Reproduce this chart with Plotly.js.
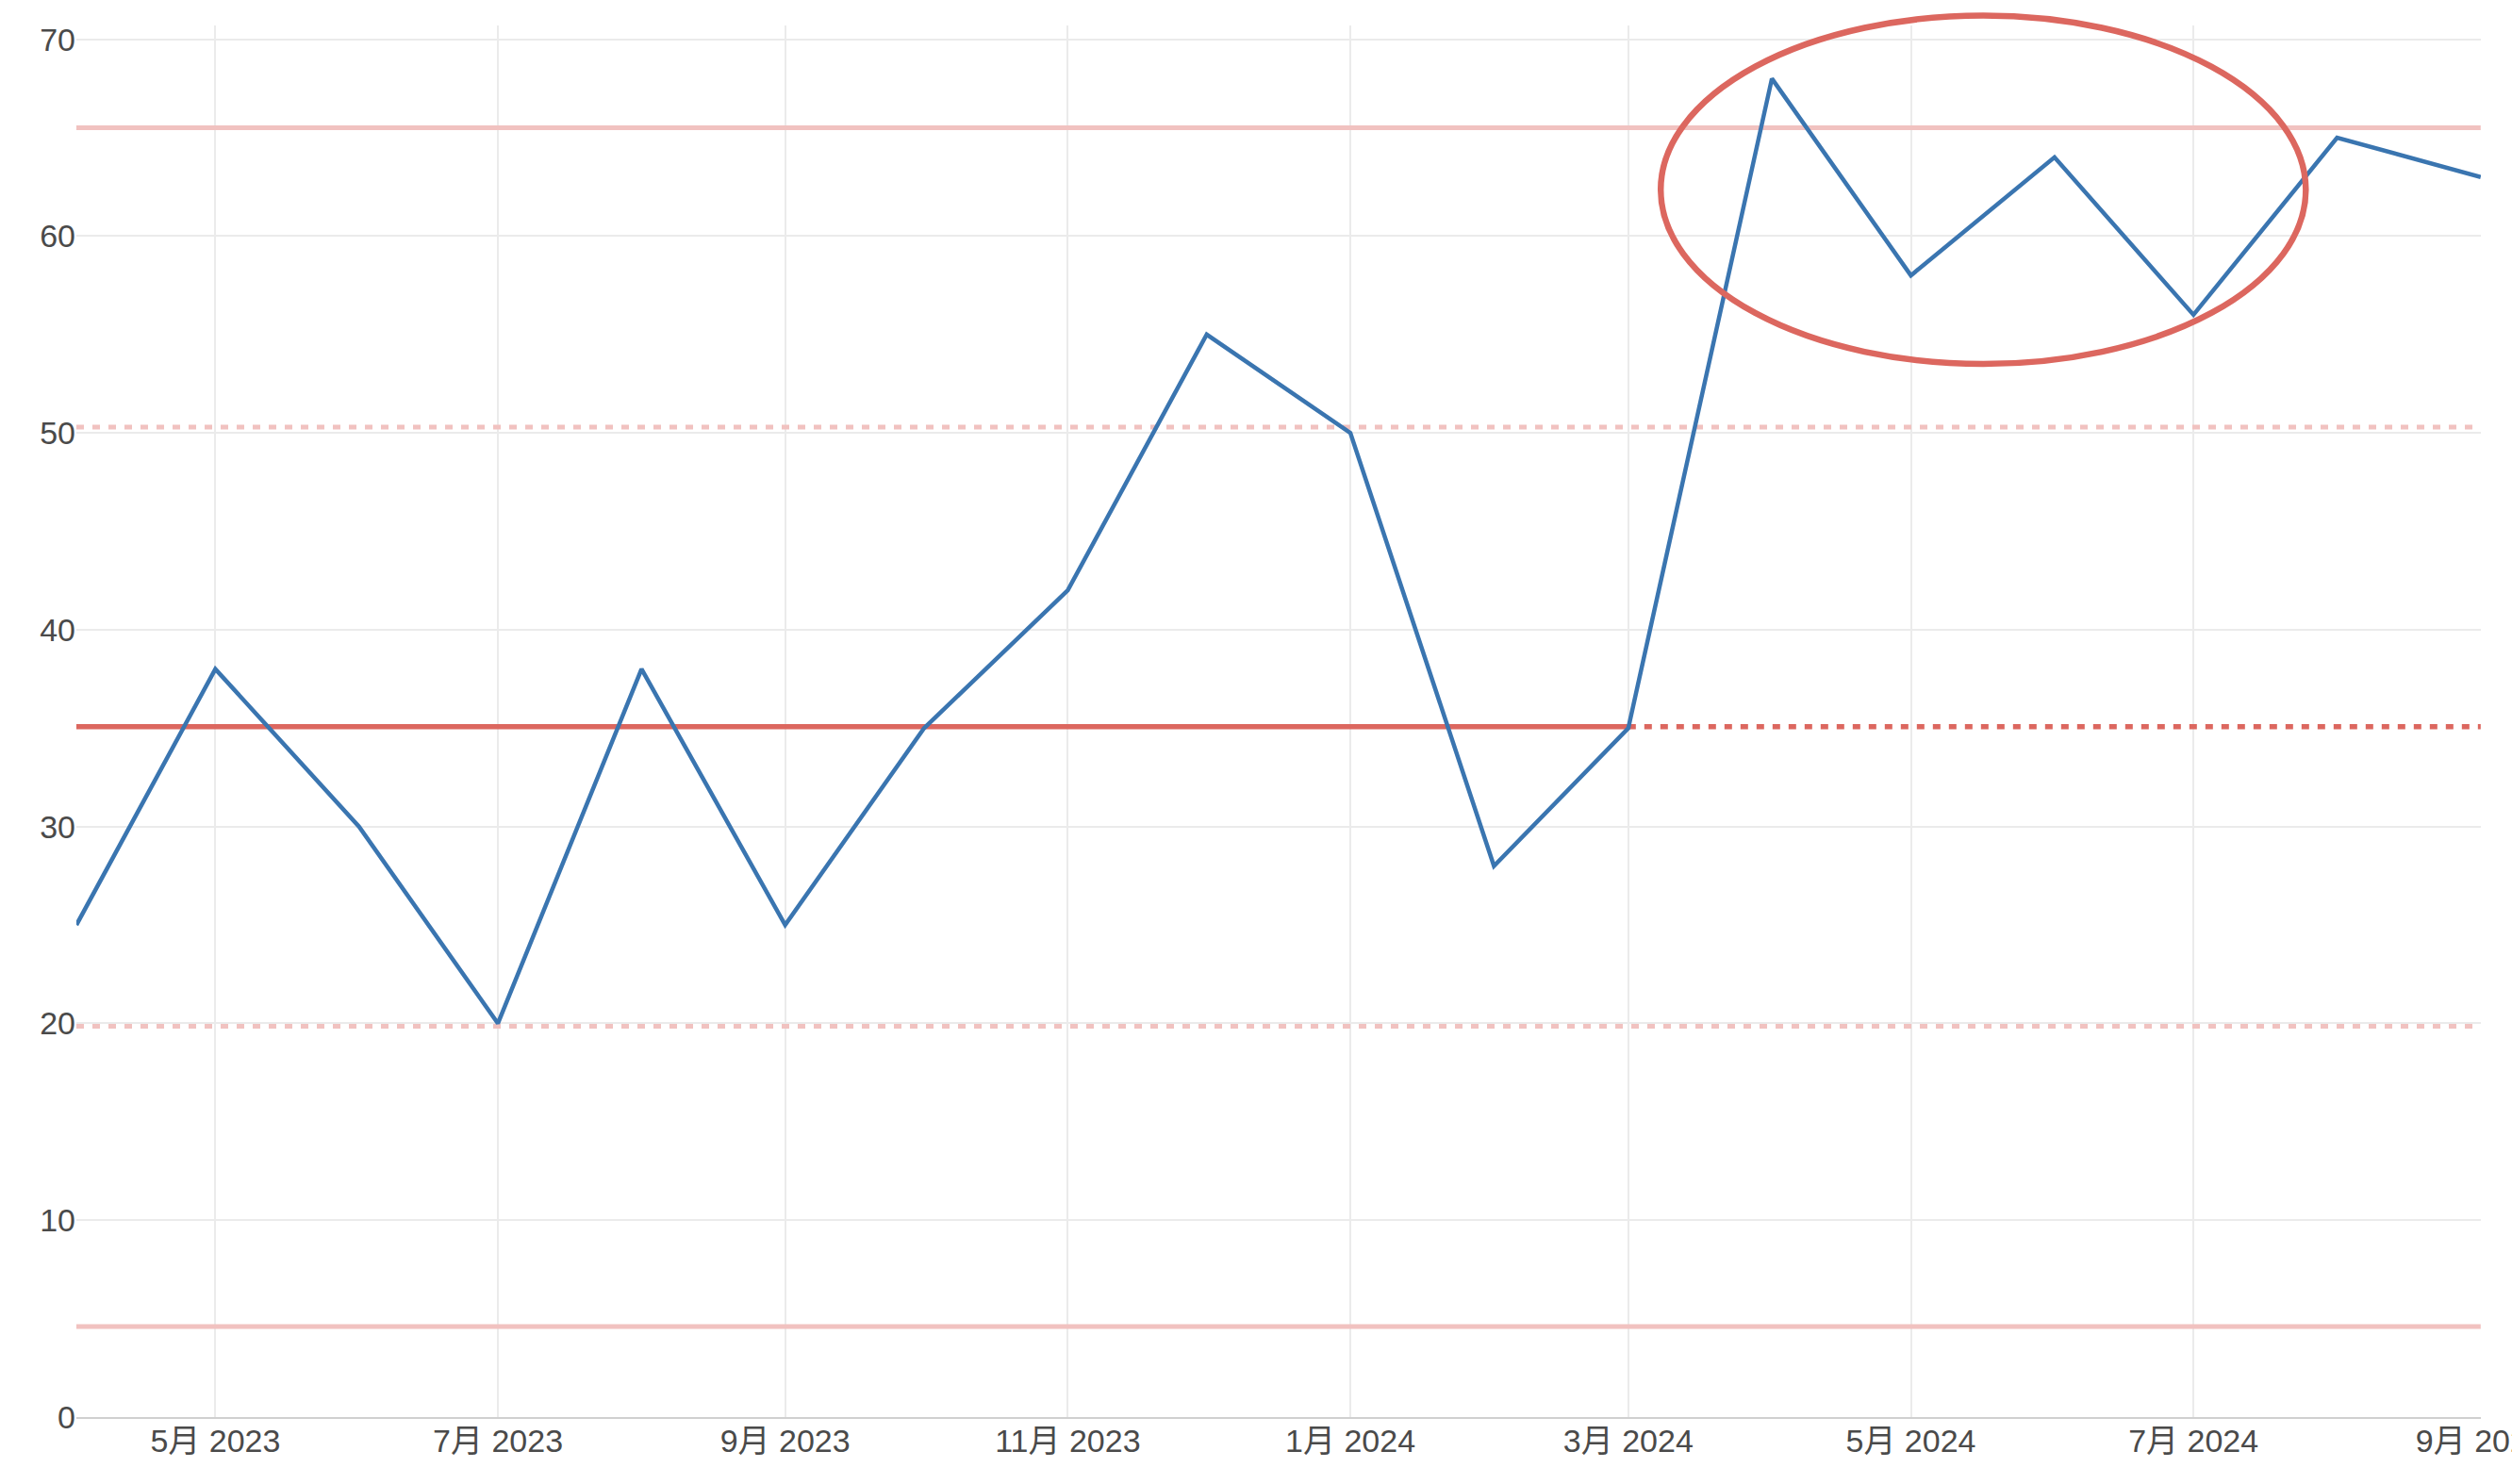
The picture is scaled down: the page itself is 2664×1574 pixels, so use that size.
<!DOCTYPE html>
<html>
<head>
<meta charset="utf-8">
<script src="https://cdn.plot.ly/plotly-3.0.1.min.js"></script>
<style>
html,body{margin:0;padding:0;background:#fff;}
#chart{width:2664px;height:1574px;}
</style>
</head>
<body>
<div id="chart"></div>
<script>
// ---- data ----
const months = ['2023-04-01','2023-05-01','2023-06-01','2023-07-01','2023-08-01','2023-09-01',
  '2023-10-01','2023-11-01','2023-12-01','2024-01-01','2024-02-01','2024-03-01',
  '2024-04-01','2024-05-01','2024-06-01','2024-07-01','2024-08-01','2024-09-01'];
const values = [25,38,30,20,38,25,35,42,55,50,28,35,68,58,64,56,65,63];

const baselineEnd = '2024-03-01';
const centerLine = 35.08;
const upperLimit = 65.5;
const lowerLimit = 4.6;
const upperZone = 50.3;
const lowerZone = 19.85;

const xStart = '2023-04-01';
const xEnd = '2024-09-01';
const xRangeEnd = '2024-09-01 01:00';
const yMax = 70.7;
const tickDates = ['2023-05-01','2023-07-01','2023-09-01','2023-11-01','2024-01-01',
  '2024-03-01','2024-05-01','2024-07-01','2024-09-01'];

// highlight ellipse (data units)
const ellipseX = ['2024-03-08', '2024-07-25 06:00'];
const ellipseY = [53.5, 71.2];

// ---- styles ----
const red = '#dc675f';
const pink = '#f1c2c0';
const blue = '#3a75b0';
const fontFam = '"Liberation Sans", Arial, "Noto Sans CJK JP", "Noto Sans CJK SC", sans-serif';

function hline(x0, x1, y, color, width, dash) {
  return {x:[x0,x1], y:[y,y], type:'scatter', mode:'lines', hoverinfo:'skip', showlegend:false,
    line:{color:color, width:width, dash:dash||'solid'}};
}

const traces = [
  hline(xStart, xEnd, upperLimit, pink, 5),
  hline(xStart, xEnd, lowerLimit, pink, 5),
  hline(xStart, xEnd, upperZone, pink, 5, '8px,9px'),
  hline(xStart, xEnd, lowerZone, pink, 5, '8px,9px'),
  hline(xStart, baselineEnd, centerLine, red, 5.5),
  hline(baselineEnd, xEnd, centerLine, red, 5.5, '8px,9px'),
  {x:months, y:values, type:'scatter', mode:'lines', showlegend:false,
   line:{color:blue, width:4.5}}
];

const layout = {
  width:2664, height:1574,
  margin:{l:81, r:33, t:27, b:71},
  paper_bgcolor:'#ffffff', plot_bgcolor:'#ffffff',
  font:{family:fontFam, size:34, color:'#4a4a4a'},
  showlegend:false,
  xaxis:{
    type:'date', range:[xStart, xRangeEnd],
    tickmode:'array', tickvals:tickDates, tickformat:'%-m月 %Y',
    showgrid:true, gridcolor:'#ebebeb', gridwidth:2,
    showline:true, linecolor:'#d0d0d0', linewidth:2,
    zeroline:false, ticks:'', ticklabelstandoff:-6,
    ticklabeloverflow:'allow'
  },
  yaxis:{
    range:[0, yMax], dtick:10, tick0:0,
    showgrid:true, gridcolor:'#ebebeb', gridwidth:2,
    zeroline:false, showline:false, ticks:''
  },
  shapes:[{
    type:'circle', xref:'x', yref:'paper',
    x0:ellipseX[0], x1:ellipseX[1],
    y0:ellipseY[0]/yMax, y1:ellipseY[1]/yMax,
    line:{color:red, width:6.5}, fillcolor:'rgba(0,0,0,0)', layer:'above'
  }]
};

Plotly.newPlot('chart', traces, layout, {displayModeBar:false, staticPlot:true});
</script>
</body>
</html>
